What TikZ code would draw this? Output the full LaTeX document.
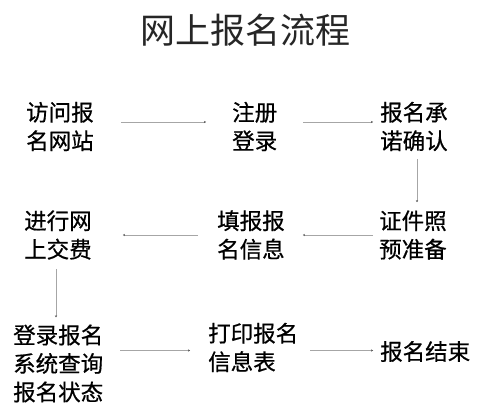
\documentclass[tikz,border=0pt]{standalone}
\usepackage{fontspec}
\setmainfont{Noto Sans CJK SC}
\newfontfamily\boldish[FakeBold=0.6]{Noto Sans CJK SC}
\usetikzlibrary{arrows.meta}
\begin{document}
\begin{tikzpicture}[x=1pt,y=1pt,
  txt/.style={anchor=west,align=left,inner sep=0pt,text=black,
    font=\boldish\fontsize{22.5}{28.5}\selectfont},
  ttl/.style={inner sep=0pt,text=black!85,font=\fontsize{35}{40}\selectfont},
  arr/.style={draw=black!35,line width=0.8pt,-{Stealth[length=2pt,width=2.2pt,black!70]}}]
\useasboundingbox (0,0) rectangle (489,414);
\node[ttl] (t) at (245,384) {网上报名流程};
\node[txt] (a) at (26,287.5) {访问报\\名网站};
\node[txt] (b) at (232,287.5) {注册\\登录};
\node[txt] (c) at (380,287.5) {报名承\\诺确认};
\node[txt] (d) at (379,179) {证件照\\预准备};
\node[txt] (e) at (217,179) {填报报\\名信息};
\node[txt] (f) at (24,179) {进行网\\上交费};
\node[txt] (g) at (13,50.5) {登录报名\\系统查询\\报名状态};
\node[txt] (h) at (208,66.5) {打印报名\\信息表};
\node[txt] (i) at (380,62.5) {报名结束};
\draw[arr] ([xshift=27pt,yshift=4.5pt]a.east) -- ([xshift=-26pt,yshift=4.5pt]b.west);
\draw[arr] ([xshift=26pt,yshift=4.5pt]b.east) -- ([xshift=-7pt,yshift=4.5pt]c.west);
\draw[arr] ([xshift=37pt,yshift=-8pt]c.south west) -- ([xshift=38pt,yshift=8pt]d.north west);
\draw[arr] ([xshift=-6pt]d.west) -- ([xshift=18pt]e.east);
\draw[arr] ([xshift=-19pt]e.west) -- ([xshift=31pt]f.east);
\draw[arr] ([xshift=32pt,yshift=-9pt]f.south west) -- ([xshift=43pt,yshift=7pt]g.north west);
\draw[arr] ([xshift=17pt,yshift=13pt]g.east) -- ([xshift=-18pt,yshift=-3pt]h.west);
\draw[arr] ([xshift=12pt,yshift=-3pt]h.east) -- ([xshift=-7pt,yshift=1pt]i.west);
\end{tikzpicture}
\end{document}
